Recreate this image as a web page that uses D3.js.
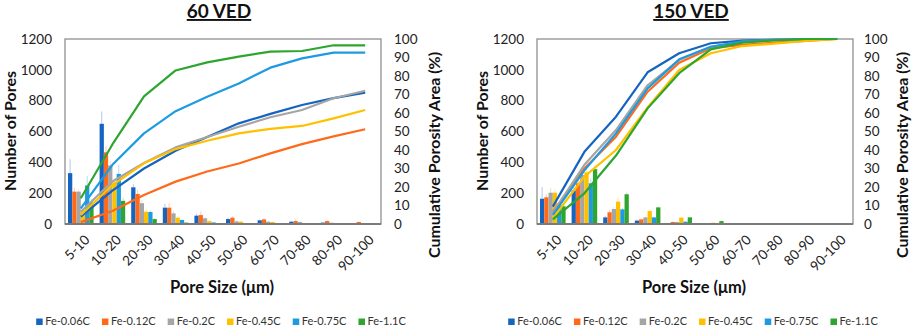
<!DOCTYPE html>
<html>
<head>
<meta charset="utf-8">
<script src="https://cdn.jsdelivr.net/npm/d3@7"></script>
<style>
  body { margin: 0; background: #fff; }
  svg { font-family: Lato, "Open Sans", sans-serif; }
</style>
</head>
<body>
<div id="grafico"></div>
<script>

// Categorias de tamanho de poro
const categorias = ["5-10", "10-20", "20-30", "30-40", "40-50", "50-60", "60-70", "70-80", "80-90", "90-100"]

// Ligas (séries) e cores
const ligas = ["Fe-0.06C", "Fe-0.12C", "Fe-0.2C", "Fe-0.45C", "Fe-0.75C", "Fe-1.1C"]
const cores = ["#1565C0", "#FF6A1A", "#A5A5A5", "#FFC000", "#1E9BE0", "#2EA52E"]

// 60 VED - número de poros (barras), erro e área acumulada (%)
const poros60 = [
    [330, 650, 238, 106, 54, 32, 24, 15, 9, 4],
    [210, 465, 195, 106, 58, 41, 30, 19, 19, 13],
    [210, 380, 135, 69, 37, 17, 15, 13, 8, 3],
    [90, 270, 80, 41, 19, 15, 13, 4, 4, 2],
    [250, 325, 78, 26, 10, 5, 3, 2, 1, 1],
    [140, 150, 32, 9, 3, 2, 1, 1, 1, 1]
]
const erro60 = [
    [90, 80, 20, 25, 12, 10, 6, 6, 4, 2],
    [25, 40, 25, 30, 25, 10, 10, 10, 8, 5],
    [15, 30, 20, 15, 10, 6, 5, 5, 4, 2],
    [15, 25, 20, 10, 6, 4, 3, 2, 2, 1],
    [60, 60, 10, 5, 3, 2, 1, 1, 1, 1],
    [20, 20, 5, 3, 1, 1, 1, 1, 1, 1]
]
const acum60 = [
    [4, 18, 30, 39.6, 47, 54.4, 59.5, 64.3, 68, 71],
    [1, 7, 15.7, 22.9, 28.4, 32.7, 38.2, 43.2, 47.4, 51.2],
    [6.6, 23, 33, 41.4, 47, 52.6, 57.7, 61.6, 68, 72],
    [4.9, 21, 32.8, 40.5, 45, 49, 51.4, 53, 57.1, 61.6],
    [8.5, 32, 49, 61, 68.8, 76, 84.5, 89.5, 92.6, 92.6],
    [13.9, 43, 69, 83, 87.4, 90.5, 93.2, 93.5, 96.6, 96.6]
]

// 150 VED
const poros150 = [
    [164, 218, 43, 22, 3, 1, 0, 0, 0, 0],
    [173, 264, 76, 30, 13, 4, 1, 0, 0, 0],
    [203, 318, 97, 43, 13, 2, 0, 0, 0, 0],
    [203, 335, 145, 84, 41, 8, 3, 0, 0, 0],
    [120, 264, 95, 43, 15, 2, 0, 0, 0, 0],
    [115, 356, 193, 108, 43, 19, 3, 0, 0, 0]
]
const erro150 = [
    [75, 30, 10, 6, 2, 1, 0, 0, 0, 0],
    [20, 40, 15, 6, 4, 2, 0, 0, 0, 0],
    [30, 40, 12, 6, 3, 1, 0, 0, 0, 0],
    [25, 50, 30, 12, 6, 3, 1, 0, 0, 0],
    [20, 30, 10, 5, 3, 1, 0, 0, 0, 0],
    [15, 20, 10, 6, 4, 3, 1, 0, 0, 0]
]
const acum150 = [
    [9.4, 39, 58, 82, 92.3, 97.7, 99.1, 99.6, 100, 100],
    [6.6, 30, 47.2, 71.5, 87.2, 95, 96.8, 98, 99, 100],
    [6, 32, 50.8, 75, 88.6, 95.8, 98.4, 99.5, 100, 100],
    [3, 25.6, 40, 63, 83.2, 92.3, 96.2, 97.5, 99, 100],
    [4.9, 29, 49, 73.3, 89, 95.8, 98.7, 99.5, 100, 100],
    [2.5, 16.6, 37, 62.5, 81.5, 94.4, 98, 99.3, 100, 100]
]

// Ticks dos eixos
const ticksPoros = [0, 200, 400, 600, 800, 1000, 1200]
const ticksAcum = [0, 10, 20, 30, 40, 50, 60, 70, 80, 90, 100]


// Criação do SVG
let svg = d3.select("#grafico").append("svg")
    .attr("width", 913)
    .attr("height", 329)

svg.append("rect").attr("width", 913).attr("height", 329).attr("fill", "#fff")


function graficarPainel(titulo, poros, erro, acum, esquerda, padDireita, tituloDireita) {

    let width = 316
    let height = 185
    let top = 39

    let g = svg.append("g").attr("transform", `translate(${esquerda}, ${top})`)

    // Escalas
    let x0 = d3.scaleBand().domain(categorias).range([0, width])
    let x1 = d3.scaleBand().domain(d3.range(ligas.length)).range([3, x0.bandwidth() - 3])
    let y = d3.scaleLinear().domain([0, 1200]).range([height, 0])
    let y2 = d3.scaleLinear().domain([0, 100]).range([height, 0])

    // Moldura da área do gráfico
    g.append("rect")
        .attr("width", width)
        .attr("height", height)
        .attr("fill", "none")
        .attr("stroke", "#8f8f8f")
        .attr("stroke-width", 1.3)

    // Barras de erro e barras
    ligas.forEach((liga, s) => {
        let grupo = g.append("g")

        grupo.selectAll("line")
            .data(poros[s])
            .join("line")
            .attr("x1", (d, i) => x0(categorias[i]) + x1(s) + x1.bandwidth() / 2)
            .attr("x2", (d, i) => x0(categorias[i]) + x1(s) + x1.bandwidth() / 2)
            .attr("y1", d => y(d))
            .attr("y2", (d, i) => y(d + erro[s][i]))
            .attr("stroke", cores[s])
            .attr("stroke-opacity", 0.35)
            .attr("stroke-width", 1)

        grupo.selectAll("rect")
            .data(poros[s])
            .join("rect")
            .attr("x", (d, i) => x0(categorias[i]) + x1(s))
            .attr("y", d => y(d))
            .attr("width", x1.bandwidth())
            .attr("height", d => height - y(d))
            .attr("fill", cores[s])
    })

    // Linhas acumuladas
    let linha = d3.line()
        .x((d, i) => x0(categorias[i]) + x0.bandwidth() / 2)
        .y(d => y2(d))

    acum.forEach((serie, s) => {
        g.append("path")
            .datum(serie)
            .attr("d", linha)
            .attr("fill", "none")
            .attr("stroke", cores[s])
            .attr("stroke-width", 2.2)
            .attr("stroke-linejoin", "round")
    })

    // Eixo x (linha de base)
    g.append("line")
        .attr("x1", 0).attr("x2", width)
        .attr("y1", height).attr("y2", height)
        .attr("stroke", "#7a7a7a")
        .attr("stroke-width", 2)

    // Eixo y esquerdo
    let eixoY = g.append("g")
        .call(d3.axisLeft(y).tickValues(ticksPoros).tickFormat(d3.format("d")).tickSize(0).tickPadding(13))
    eixoY.select(".domain").remove()
    eixoY.selectAll("text").attr("font-size", 13.5).attr("fill", "#222").attr("font-family", "Lato, sans-serif")

    // Eixo y direito
    let eixoY2 = g.append("g")
        .attr("transform", `translate(${width}, 0)`)
        .call(d3.axisRight(y2).tickValues(ticksAcum).tickSize(0).tickPadding(padDireita))
    eixoY2.select(".domain").remove()
    eixoY2.selectAll("text").attr("font-size", 13.5).attr("fill", "#222").attr("font-family", "Lato, sans-serif")

    // Rótulos do eixo x, girados
    g.selectAll(".rotulo")
        .data(categorias)
        .join("text")
        .attr("class", "rotulo")
        .attr("transform", d => `translate(${x0(d) + x0.bandwidth() / 2 + 3}, ${height + 10}) rotate(-45)`)
        .attr("text-anchor", "end")
        .attr("dy", "0.7em")
        .attr("font-size", 13.5)
        .attr("fill", "#222")
        .text(d => d)

    // Título
    g.append("text")
        .attr("x", 154)
        .attr("y", 18 - top)
        .attr("text-anchor", "middle")
        .attr("font-size", 19)
        .attr("font-weight", "bold")
        .attr("text-decoration", "underline")
        .attr("fill", "#111")
        .text(titulo)

    // Título do eixo x
    g.append("text")
        .attr("x", 157)
        .attr("y", 293 - top)
        .attr("text-anchor", "middle")
        .attr("font-size", 16.5)
        .attr("font-weight", "bold")
        .attr("fill", "#111")
        .text("Pore Size (μm)")

    // Título do eixo y esquerdo
    g.append("text")
        .attr("transform", `translate(${-49}, ${131 - top}) rotate(-90)`)
        .attr("text-anchor", "middle")
        .attr("font-size", 16)
        .attr("font-weight", "bold")
        .attr("fill", "#111")
        .text("Number of Pores")

    // Título do eixo y direito
    g.append("text")
        .attr("transform", `translate(${width + tituloDireita}, ${155 - top}) rotate(-90)`)
        .attr("text-anchor", "middle")
        .attr("font-size", 16)
        .attr("font-weight", "bold")
        .attr("fill", "#111")
        .text("Cumulative Porosity Area (%)")

    // Legenda
    let legenda = g.append("g")
    let pos = 0
    ligas.forEach((liga, s) => {
        let item = legenda.append("g").attr("transform", `translate(${pos}, 0)`)
        item.append("rect")
            .attr("x", 0).attr("y", -6.5)
            .attr("width", 6.5).attr("height", 6.5)
            .attr("fill", cores[s])
        let t = item.append("text")
            .attr("x", 9)
            .attr("y", 0)
            .attr("font-size", 11)
            .attr("fill", "#333")
            .text(liga)
        pos += 9 + t.node().getComputedTextLength() + 12
    })
    pos -= 12
    legenda.attr("transform", `translate(${156 - pos / 2}, ${325 - top})`)
}


graficarPainel("60 VED", poros60, erro60, acum60, 65, 13, 59)
graficarPainel("150 VED", poros150, erro150, acum150, 537, 11, 55)

</script>
</body>
</html>
